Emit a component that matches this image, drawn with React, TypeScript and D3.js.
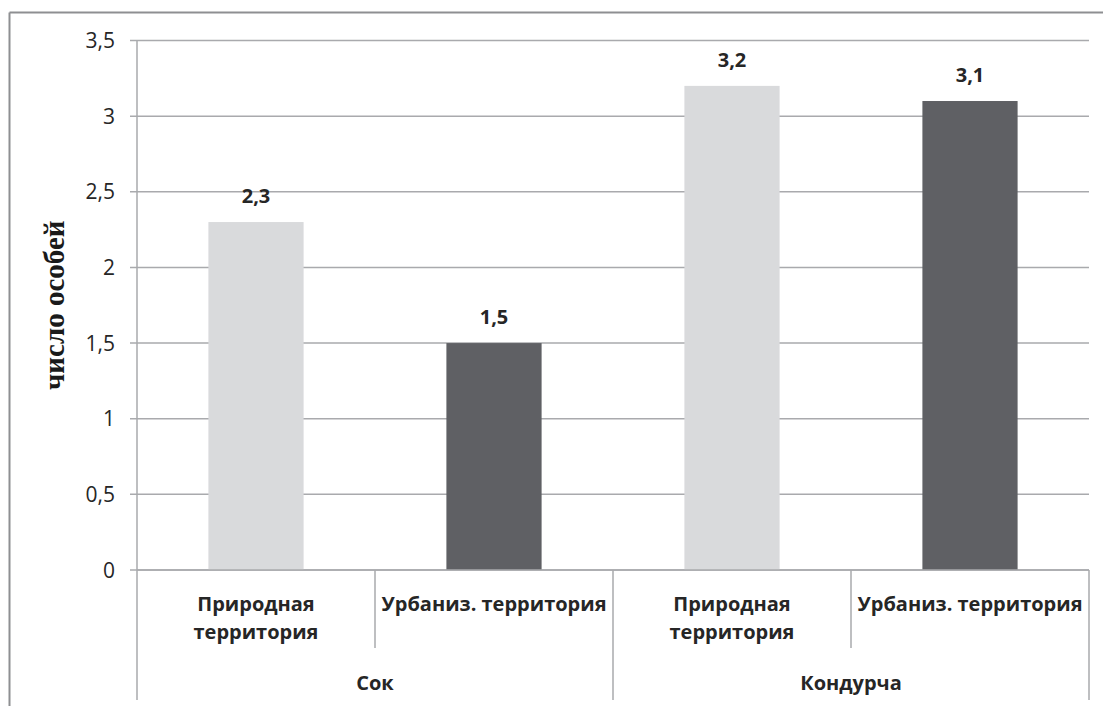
import React from "react";
import * as d3 from "d3";

const groups = ["Сок", "Кондурча"];
const subLabels: string[][] = [["Природная", "территория"], ["Урбаниз. территория"]];
const categories = ["Сок|Природная", "Сок|Урбаниз", "Кондурча|Природная", "Кондурча|Урбаниз"];
const values = [2.3, 1.5, 3.2, 3.1];
const valueLabels = ["2,3", "1,5", "3,2", "3,1"];
const yTicks = [0, 0.5, 1, 1.5, 2, 2.5, 3, 3.5];
const yTickLabels = ["0", "0,5", "1", "1,5", "2", "2,5", "3", "3,5"];
const yTitle = "число особей";

const W = 1103;
const H = 706;
const left = 137;
const right = 1089;
const top = 40.5;
const bottom = 570;

const fill = ["#d9dadc", "#5f6064", "#d9dadc", "#5f6064"];
const grid = "#a9aaad";
const textCol = "#262626";
const font = "'Open Sans', sans-serif";

export default function App() {
  const x = d3.scaleBand<string>().domain(categories).range([left, right]).paddingInner(0).paddingOuter(0);
  const y = d3.scaleLinear().domain([0, 3.5]).range([bottom, top]);
  const bw = x.bandwidth();
  const barW = bw * 0.4;

  return (
    <svg width={W} height={H} style={{ position: "absolute", left: 0, top: 0, background: "#fff" }}>
      <rect x={0} y={0} width={W} height={H} fill="#fff" />
      {/* outer chart border */}
      <line x1={9.5} y1={12.5} x2={W} y2={12.5} stroke="#8e8f92" strokeWidth={2} />
      <line x1={9.5} y1={12.5} x2={9.5} y2={H} stroke="#8e8f92" strokeWidth={2} />

      {/* grid */}
      {yTicks.map((t, i) => (
        <g key={i}>
          <line x1={left - 7} x2={right} y1={y(t)} y2={y(t)} stroke={grid} strokeWidth={1.5} />
          <text x={115} y={y(t)} dy="0.36em" textAnchor="end" fontFamily={font} fontSize={21} fill={textCol}>
            {yTickLabels[i]}
          </text>
        </g>
      ))}

      {/* bars */}
      {categories.map((c, i) => {
        const cx = (x(c) as number) + bw / 2;
        return (
          <g key={c}>
            <rect x={cx - barW / 2} y={y(values[i])} width={barW} height={bottom - y(values[i])} fill={fill[i]} />
            <text x={cx} y={y(values[i]) - 19} textAnchor="middle" fontFamily={font} fontWeight="bold" fontSize={20} fill={textCol}>
              {valueLabels[i]}
            </text>
          </g>
        );
      })}

      {/* axes */}
      <line x1={left} x2={left} y1={top} y2={700} stroke={grid} strokeWidth={1.5} />
      <line x1={left} x2={right} y1={bottom} y2={bottom} stroke={grid} strokeWidth={1.5} />
      {categories.map((c, i) => {
        const xr = (x(c) as number) + bw;
        const outer = i % 2 === 1;
        return <line key={c} x1={xr} x2={xr} y1={bottom} y2={outer ? 700 : 648} stroke={grid} strokeWidth={1.5} />;
      })}

      {/* sub-category labels */}
      {categories.map((c, i) => {
        const cx = (x(c) as number) + bw / 2;
        const lines = subLabels[i % 2];
        return (
          <text key={c} x={cx} y={611} textAnchor="middle" fontFamily={font} fontWeight="bold" fontSize={20} fill={textCol}>
            {lines.map((l, j) => (
              <tspan key={j} x={cx} dy={j === 0 ? 0 : 28}>{l}</tspan>
            ))}
          </text>
        );
      })}

      {/* group labels */}
      {groups.map((g, gi) => {
        const x0 = x(categories[gi * 2]) as number;
        const cx = x0 + bw;
        return (
          <text key={g} x={cx} y={690} textAnchor="middle" fontFamily={font} fontWeight="bold" fontSize={20} fill={textCol}>
            {g}
          </text>
        );
      })}

      {/* y title */}
      <text
        transform={`translate(64, ${(top + bottom) / 2}) rotate(-90)`}
        textAnchor="middle"
        fontFamily="'Liberation Serif', 'DejaVu Serif', serif"
        fontWeight="bold"
        fontSize={29}
        fill="#1a1a1a"
      >
        {yTitle}
      </text>
    </svg>
  );
}
